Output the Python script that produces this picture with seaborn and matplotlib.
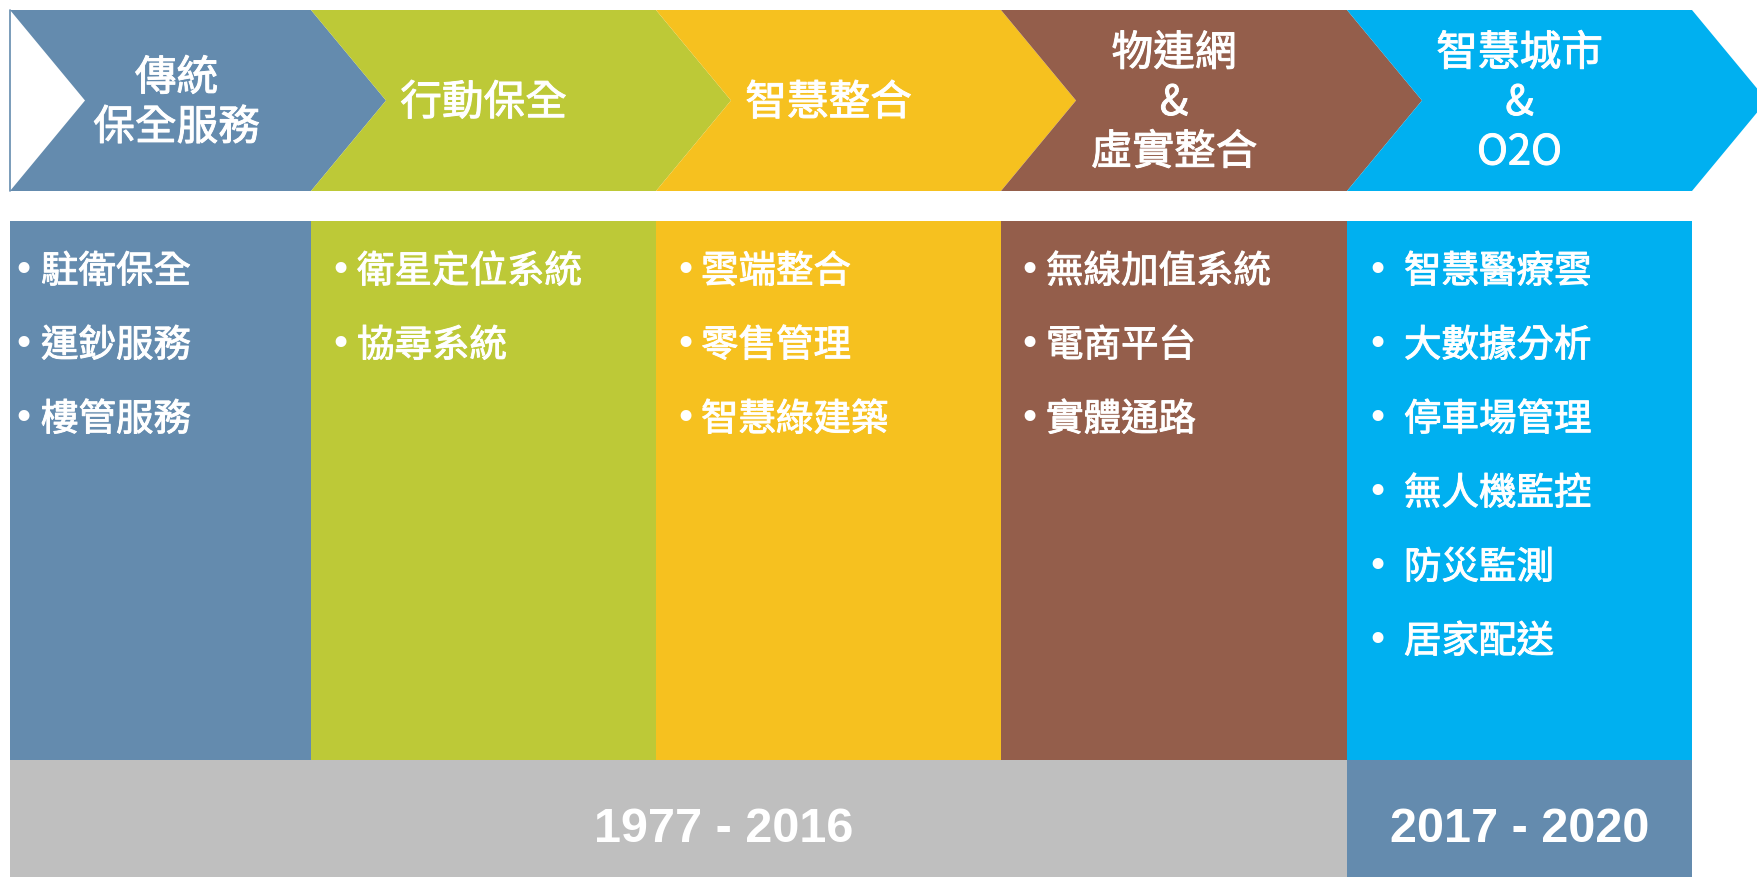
import matplotlib
matplotlib.use("Agg")
import matplotlib.pyplot as plt
import matplotlib.patheffects as pe
import seaborn as sns
from matplotlib.patches import Polygon, Rectangle

# ---------------- data ----------------
stage_titles = [
    ["傳統", "保全服務"],
    ["行動保全"],
    ["智慧整合"],
    ["物連網", "&", "虛實整合"],
    ["智慧城市", "&", "O2O"],
]
stage_items = [
    ["駐衛保全", "運鈔服務", "樓管服務"],
    ["衛星定位系統", "協尋系統"],
    ["雲端整合", "零售管理", "智慧綠建築"],
    ["無線加值系統", "電商平台", "實體通路"],
    ["智慧醫療雲", "大數據分析", "停車場管理", "無人機監控", "防災監測", "居家配送"],
]
period_labels = ["1977 - 2016", "2017 - 2020"]
period_spans = [(0, 4), (4, 5)]  # stage index ranges covered by each period

# ---------------- style ----------------
stage_colors = ["#648BAE", "#BDC937", "#F6C11F", "#945E4B", "#00B0F0"]
period_colors = ["#BFBFBF", "#648BAE"]

sns.set_theme(style="white")
plt.rcParams["font.family"] = ["Noto Sans CJK TC", "DejaVu Sans"]

W, H = 1758, 877
fig = plt.figure(figsize=(W / 100, H / 100), dpi=100)
ax = fig.add_axes([0, 0, 1, 1])
ax.set_xlim(0, W)
ax.set_ylim(H, 0)
ax.axis("off")

edges = [10, 311, 656, 1001, 1347, 1692]
arrow_top, arrow_bot = 10, 191
arrow_mid = (arrow_top + arrow_bot) / 2
tip = 75
col_top, col_bot = 221, 760
band_bot = 877

thick = [pe.withStroke(linewidth=0.7, foreground="white")]

# chevrons
for i, col in enumerate(stage_colors):
    x0, x1 = edges[i], edges[i + 1]
    pts = [(x0, arrow_top), (x1, arrow_top), (x1 + tip, arrow_mid),
           (x1, arrow_bot), (x0, arrow_bot), (x0 + tip, arrow_mid)]
    ax.add_patch(Polygon(pts, closed=True, facecolor=col, edgecolor="none", zorder=2 + i))
ax.plot([edges[0] + 0.5, edges[0] + 0.5], [arrow_top, arrow_bot], color=stage_colors[0], lw=1.2, zorder=10)

# titles
title_centers = [(edges[i] + edges[i + 1]) / 2 + (16 if i == 0 else 0) for i in range(5)]
line_gap = 49.5
for i, lines in enumerate(stage_titles):
    n = len(lines)
    for j, t in enumerate(lines):
        y = arrow_mid + (j - (n - 1) / 2) * line_gap + 3
        ax.text(title_centers[i], y, t, color="white", fontsize=30,
                ha="center", va="center", zorder=20, path_effects=thick)

# columns
for i, col in enumerate(stage_colors):
    x0, x1 = edges[i], edges[i + 1]
    ax.add_patch(Rectangle((x0, col_top), x1 - x0, col_bot - col_top, facecolor=col, edgecolor="none", zorder=2))

bullet_off = [13, 29, 29, 28, 30]
text_off = [31, 46, 45, 45, 57]
row0, row_gap = 272, 74
for i, items in enumerate(stage_items):
    x0 = edges[i]
    for k, t in enumerate(items):
        y = row0 + k * row_gap
        ax.text(x0 + bullet_off[i], y, "•", color="white", fontsize=27, family=["DejaVu Sans"],
                ha="center", va="center", zorder=20)
        ax.text(x0 + text_off[i], y, t, color="white", fontsize=27,
                ha="left", va="center", zorder=20, path_effects=thick)

# period bands
period_text_x = [724, None]
for p, (a, b) in enumerate(period_spans):
    x0, x1 = edges[a], edges[b]
    ax.add_patch(Rectangle((x0, col_bot), x1 - x0, band_bot - col_bot, facecolor=period_colors[p], edgecolor="none", zorder=2))
    cx = period_text_x[p] if period_text_x[p] is not None else (x0 + x1) / 2
    ax.text(cx, 829, period_labels[p], color="white", fontsize=35, fontweight="bold",
            family=["Liberation Sans", "DejaVu Sans"], ha="center", va="center", zorder=20)

fig.savefig("out.png", dpi=100, facecolor="white")
